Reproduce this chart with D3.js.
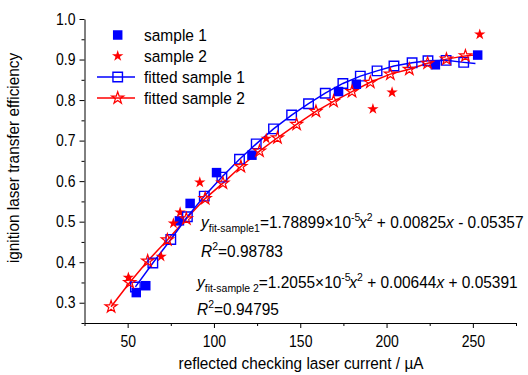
<!DOCTYPE html>
<html><head><meta charset="utf-8">
<script src="https://cdn.jsdelivr.net/npm/d3@7"></script>
<style>
html,body{margin:0;padding:0;background:#fff;}
text{font-family:"Liberation Sans",Arial,sans-serif;fill:#000;white-space:pre;}
</style></head>
<body><svg id="c" width="528" height="375"></svg>
<script>
// ---- data ----
const sample1X = [55, 60.5, 80, 86.2, 101.5, 122, 172.2, 182.5, 228.3, 252.8];
const sample1Y = [0.325, 0.342, 0.502, 0.545, 0.621, 0.664, 0.821, 0.839, 0.887, 0.911];
const sample2X = [50.4, 69.4, 76.5, 80.4, 91.8, 130.3, 192.1, 203.2, 254];
const sample2Y = [0.362, 0.414, 0.496, 0.523, 0.597, 0.705, 0.778, 0.819, 0.962];
const fit1X = [54.5, 64.6, 75, 84.6, 94.4, 104.6, 114.8, 124.5, 134.5, 145, 154.8, 164.5, 174.7, 184.8, 194.5, 204.3, 214.8, 224, 234.5, 244.7, 251.5];
const fit1Y = [0.339, 0.398, 0.456, 0.512, 0.563, 0.610, 0.654, 0.692, 0.729, 0.763, 0.791, 0.817, 0.841, 0.859, 0.872, 0.884, 0.892, 0.897, 0.898, 0.893, 0.890];
const fit2X = [40.4, 51.2, 61.6, 73, 84, 94.9, 105.2, 115.6, 126.4, 136.8, 147.9, 159.1, 169.3, 180, 190.6, 202.2, 213.2, 223.8, 234.7, 245.7, 254];
const fit2Y = [0.290, 0.350, 0.403, 0.455, 0.507, 0.557, 0.595, 0.636, 0.674, 0.707, 0.740, 0.772, 0.797, 0.821, 0.844, 0.864, 0.876, 0.891, 0.901, 0.909, 0.913];
const xMajor = [50, 100, 150, 200, 250];
const xMinor = [25, 75, 125, 175, 225, 275];
const yMajor = [0.3, 0.4, 0.5, 0.6, 0.7, 0.8, 0.9, 1.0];
const yMinor = [0.25, 0.35, 0.45, 0.55, 0.65, 0.75, 0.85, 0.95];
const legendLabels = ["sample 1", "sample 2", "fitted sample 1", "fitted sample 2"];
const xTitle = "reflected checking laser current / \u00B5A";
const yTitle = "ignition laser transfer efficiency";

// ---- layout ----
const svg = d3.select("#c");
svg.append("rect").attr("width",528).attr("height",375).attr("fill","#fff");
const x = d3.scaleLinear().domain([25, 275]).range([84.5, 516]);
const y = d3.scaleLinear().domain([0.25, 1.0]).range([323, 19]);
const BLUE = "#0000ff", RED = "#ff0000";
const SX = 0.875; // horizontal condensing of the reference lettering

// axes
const gx = svg.append("g").attr("transform","translate(0,323)");
gx.call(d3.axisBottom(x).tickValues(xMajor).tickSize(5).tickSizeOuter(0).tickFormat(d3.format("d")));
gx.append("g").call(d3.axisBottom(x).tickValues(xMinor).tickSize(3).tickSizeOuter(0).tickFormat(""))
  .select(".domain").remove();
const gy = svg.append("g").attr("transform","translate(84.5,0)");
gy.call(d3.axisLeft(y).tickValues(yMajor).tickSize(5).tickSizeOuter(0).tickFormat(d3.format(".1f")));
gy.append("g").call(d3.axisLeft(y).tickValues(yMinor).tickSize(3).tickSizeOuter(0).tickFormat(""))
  .select(".domain").remove();
svg.selectAll(".tick text").attr("font-size",16).attr("font-family","Liberation Sans, Arial, sans-serif")
  .attr("fill","#000").attr("transform",`scale(${SX},1)`);
gx.selectAll(".tick text").attr("dy","1.0em");
gy.selectAll(".tick text").attr("x",-9/SX);
svg.selectAll(".domain, .tick line").attr("stroke","#000").attr("stroke-width",1);

// titles
svg.append("text").attr("transform",`translate(301,369) scale(0.93,1)`).attr("text-anchor","middle")
  .attr("font-size",16.5).text(xTitle);
svg.append("text").attr("transform","translate(19,158) rotate(-90) scale(0.93,1)").attr("text-anchor","middle")
  .attr("font-size",16.5).text(yTitle);

// symbols
const sq = s => d3.symbol(d3.symbolSquare, s*s)();
const st = r => d3.symbol(d3.symbolStar, r*r/0.8908130915292852)();

// fitted lines
const line = d3.line().x(d=>x(d[0])).y(d=>y(d[1]));
const f1 = fit1X.map((v,i)=>[v, fit1Y[i]]);
const f2 = fit2X.map((v,i)=>[v, fit2Y[i]]);
svg.append("path").attr("d", line(f2)).attr("fill","none").attr("stroke",RED).attr("stroke-width",1.5);
svg.append("path").attr("d", line(f1)).attr("fill","none").attr("stroke",BLUE).attr("stroke-width",1.5);

// data points
svg.append("g").selectAll("path").data(sample1X.map((v,i)=>[v,sample1Y[i]])).join("path")
  .attr("d", sq(9.5)).attr("transform", d=>`translate(${x(d[0])},${y(d[1])})`).attr("fill",BLUE);
svg.append("g").selectAll("path").data(sample2X.map((v,i)=>[v,sample2Y[i]])).join("path")
  .attr("d", st(6)).attr("transform", d=>`translate(${x(d[0])},${y(d[1])})`).attr("fill",RED);

// fitted markers (last point is line end only)
svg.append("g").selectAll("path").data(f1.slice(0,-1)).join("path")
  .attr("d", sq(9.5)).attr("transform", d=>`translate(${x(d[0])},${y(d[1])})`)
  .attr("fill","none").attr("stroke",BLUE).attr("stroke-width",1.4);
svg.append("g").selectAll("path").data(f2.slice(0,-1)).join("path")
  .attr("d", st(6.3)).attr("transform", d=>`translate(${x(d[0])},${y(d[1])})`)
  .attr("fill","none").attr("stroke",RED).attr("stroke-width",1.2);

// legend
const ly = [35, 56, 77, 98], lx = 117.7;
const leg = svg.append("g");
leg.append("path").attr("d",sq(9.5)).attr("transform",`translate(${lx},${ly[0]})`).attr("fill",BLUE);
leg.append("path").attr("d",st(6)).attr("transform",`translate(${lx},${ly[1]})`).attr("fill",RED);
leg.append("line").attr("x1",97).attr("x2",135).attr("y1",ly[2]).attr("y2",ly[2]).attr("stroke",BLUE).attr("stroke-width",1.5);
leg.append("path").attr("d",sq(9.5)).attr("transform",`translate(${lx},${ly[2]})`).attr("fill","none").attr("stroke",BLUE).attr("stroke-width",1.4);
leg.append("line").attr("x1",97).attr("x2",135).attr("y1",ly[3]).attr("y2",ly[3]).attr("stroke",RED).attr("stroke-width",1.5);
leg.append("path").attr("d",st(6.3)).attr("transform",`translate(${lx},${ly[3]})`).attr("fill","none").attr("stroke",RED).attr("stroke-width",1.2);
leg.selectAll("text").data(legendLabels).join("text")
  .attr("transform",(d,i)=>`translate(144,${ly[i]}) scale(0.94,1)`).attr("dy","0.36em")
  .attr("font-size",16.5).text(d=>d);

// equations
function eq(x0, y0, parts){
  const t = svg.append("text").attr("transform",`translate(${x0},${y0}) scale(0.91,1)`).attr("font-size",17);
  let base = 0;
  parts.forEach(p=>{
    const s = t.append("tspan").text(p.t);
    let off = p.sub ? 4 : p.sup ? -7.5 : 0;
    s.attr("dy", off - base); base = off;
    if (p.sub || p.sup) s.attr("font-size",11.5);
    if (p.i) s.attr("font-style","italic");
    if (p.dx) s.attr("dx",p.dx);
  });
}
eq(201, 228, [{t:"y",i:1},{t:"fit-sample1",sub:1},{t:"=1.78899\u00D710"},{t:"-5",sup:1},{t:"x",i:1,dx:-1.5},{t:"2",sup:1},{t:" + 0.00825"},{t:"x",i:1},{t:" - 0.05357"}]);
eq(201, 257, [{t:"R",i:1},{t:"2",sup:1},{t:"=0.98783"}]);
eq(197, 288, [{t:"y",i:1},{t:"fit-sample 2",sub:1},{t:"=1.2055\u00D710"},{t:"-5",sup:1},{t:"x",i:1,dx:-1.5},{t:"2",sup:1},{t:" + 0.00644"},{t:"x",i:1},{t:" + 0.05391"}]);
eq(197, 315, [{t:"R",i:1},{t:"2",sup:1},{t:"=0.94795"}]);
</script></body></html>
